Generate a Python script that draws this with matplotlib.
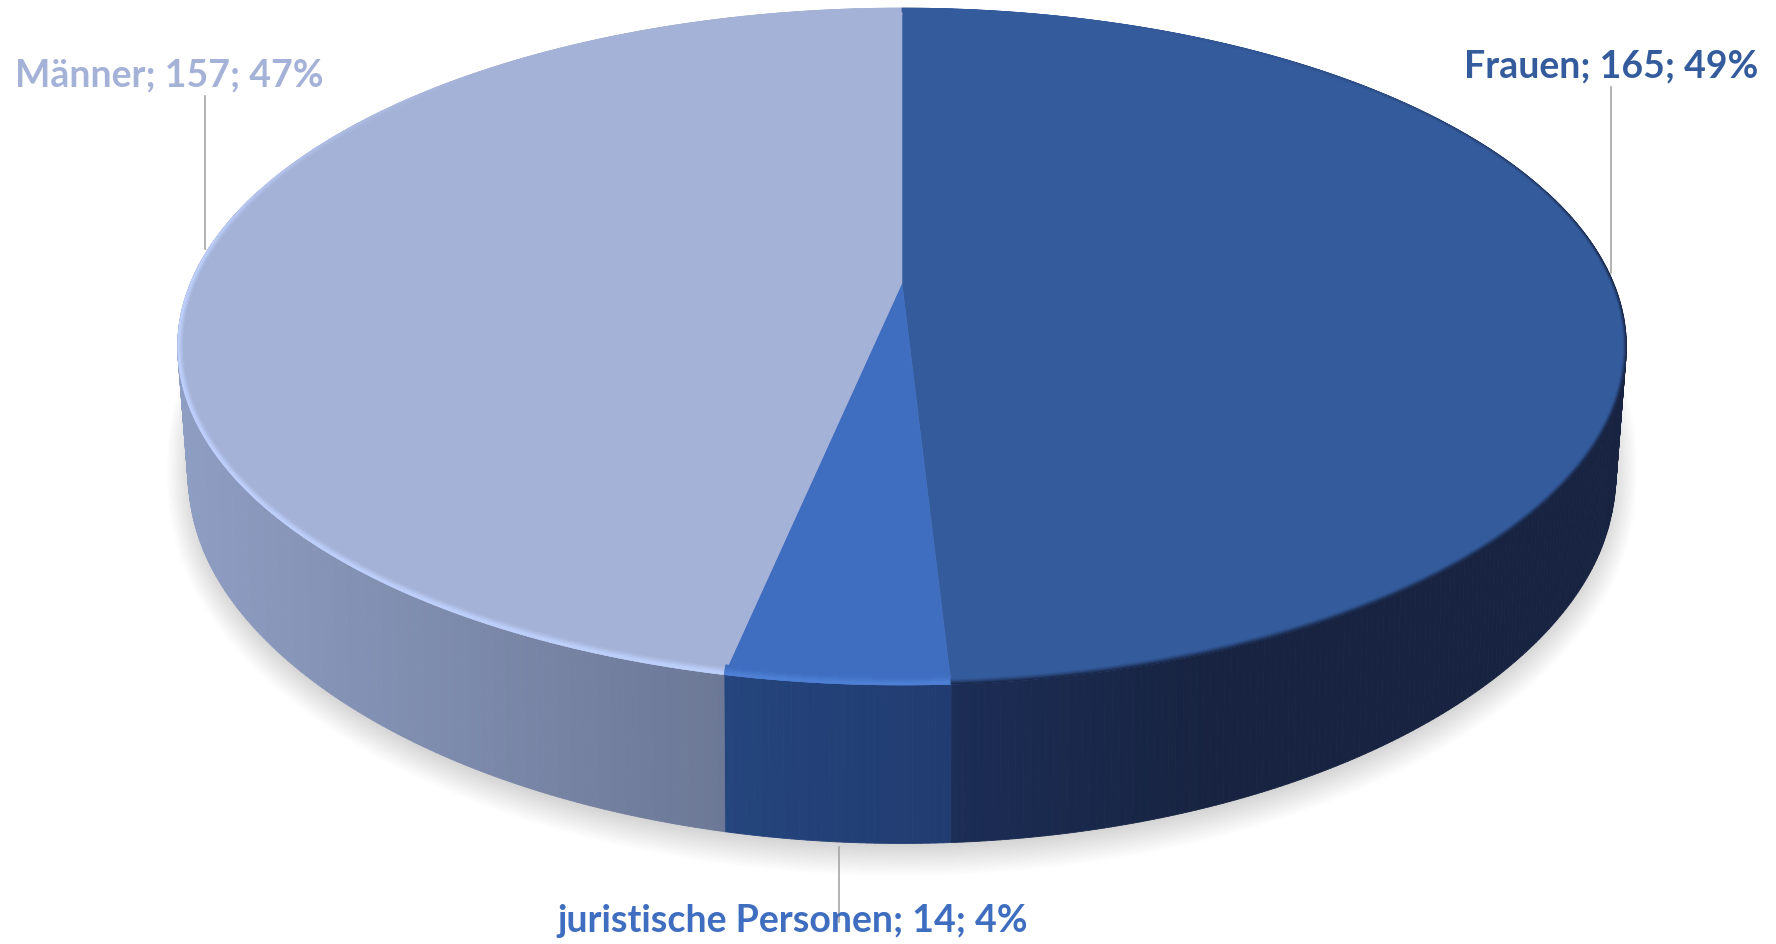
import numpy as np
import matplotlib
matplotlib.use("Agg")
import matplotlib.pyplot as plt
from matplotlib.collections import PolyCollection

# data, clockwise from 12 o'clock
categories = ["Frauen", "juristische Personen", "Männer"]
values = [165, 14, 157]
percents = ["49%", "4%", "47%"]

face_cols = [(52, 91, 156), (63, 110, 192), (165, 178, 215)]
rim_cols = [(24, 38, 70), (78, 128, 214), (190, 208, 252)]
side_left = [(28, 45, 86), (37, 69, 126), (142, 157, 194)]
side_right = [(23, 35, 64), (33, 60, 112), (108, 120, 150)]
side_speed = [2.5, 1.0, 1.0]
rim_depth = [0.985, 0.975, 0.975]
label_pos = [(1464, 77), (557, 932), (15, 86)]
leaders = [(1611, 87, 273), (839, 847, 922), (205, 96, 249)]

K = 0.1876
W, H = 1776, 944


def rgb(c):
    return np.array(c) / 255.0


def top_xy(t, r=1.0):
    # the bevel rings shrink less sideways than front to back
    rx = 1 - (1 - r) * 0.4
    u, v = np.sin(t), -np.cos(t)
    w = 1 - K * v
    return 902 + 711.5 * rx * u / w, 283 + 326.6 * r * v / w


def bottom_xy(t, grow=0.0, dy=0.0):
    u, v = np.sin(t), -np.cos(t)
    w = 1 - K * v
    # wall edge runs nearly straight below the widest point
    pull = 6 * np.sign(u) * np.exp(-((v - 0.19) / 0.2) ** 2)
    return 902 + (708 + grow) * u / w - pull, 388 + dy + (370 + grow) * v / w


edges = np.cumsum([0] + values) / sum(values) * 2 * np.pi

fig = plt.figure(figsize=(W / 100, H / 100), dpi=100)
ax = fig.add_axes([0, 0, 1, 1])
ax.set_xlim(0, W)
ax.set_ylim(H, 0)
ax.axis("off")

# soft shadow below the disc
tt = np.linspace(0, 2 * np.pi, 400)
for d in np.linspace(26, 0, 22):
    x, y = bottom_xy(tt, grow=d - 6, dy=8)
    ax.fill(x, y, color="k", alpha=0.008, lw=0, zorder=1)

# side wall
for i in range(3):
    ts = np.arange(edges[i], edges[i + 1], np.radians(0.5))
    ts = np.append(ts, edges[i + 1])
    ts = ts[-np.cos(ts) > -0.3]
    if len(ts) < 2:
        continue
    x1, y1 = top_xy(ts)
    x2, y2 = bottom_xy(ts)
    lo, hi = x2.min(), x2.max()
    polys, cols = [], []
    for j in range(len(ts) - 1):
        polys.append([(x1[j], y1[j]), (x1[j + 1], y1[j + 1]), (x2[j + 1], y2[j + 1]), (x2[j], y2[j])])
        f = min((x2[j] - lo) / (hi - lo) * side_speed[i], 1)
        cols.append(rgb(side_left[i]) * (1 - f) + rgb(side_right[i]) * f)
    ax.add_collection(PolyCollection(polys, facecolors=cols, edgecolors=cols, linewidths=0.6, zorder=2))

# top face
for i in range(3):
    ts = np.linspace(edges[i], edges[i + 1], 300)
    x, y = top_xy(ts)
    ax.fill(np.r_[902, x], np.r_[283, y], color=rgb(face_cols[i]), lw=0.4, zorder=3)

# bevel along the rim, last slice first so its end sits under the neighbour
for i in [2, 1, 0]:
    rings = np.linspace(1.0, rim_depth[i], 11)
    ts = np.linspace(edges[i], edges[i + 1], 300)
    polys, cols = [], []
    for k in range(len(rings) - 1):
        xa, ya = top_xy(ts, rings[k])
        xb, yb = top_xy(ts, rings[k + 1])
        p = k / (len(rings) - 2)
        prof = (1 - p) ** 1.2 if i == 0 else np.clip(1.3 * (1 - p), 0, 1) ** 1.3
        for j in range(len(ts) - 1):
            v = -np.cos(ts[j])
            s = np.clip((v + 0.75) / 0.7, 0, 1) * prof
            if i == 0:
                s = np.clip((v + 0.95) / 0.9, 0, 1) * prof
            polys.append([(xa[j], ya[j]), (xa[j + 1], ya[j + 1]), (xb[j + 1], yb[j + 1]), (xb[j], yb[j])])
            cols.append(rgb(face_cols[i]) * (1 - s) + rgb(rim_cols[i]) * s)
    ax.add_collection(PolyCollection(polys, facecolors=cols, edgecolors=cols, linewidths=0.4, zorder=4))

# labels and leader lines
for i in range(3):
    lx, y0, y1 = leaders[i]
    ax.plot([lx, lx], [y0, y1], color="#a6a6a6", lw=1.2, zorder=5)
    ax.text(label_pos[i][0], label_pos[i][1], "{}; {}; {}".format(categories[i], values[i], percents[i]),
            color=rgb(face_cols[i]), family="Lato", weight="bold", fontsize=27,
            ha="left", va="baseline", zorder=6)

fig.savefig("out.png", dpi=100)
